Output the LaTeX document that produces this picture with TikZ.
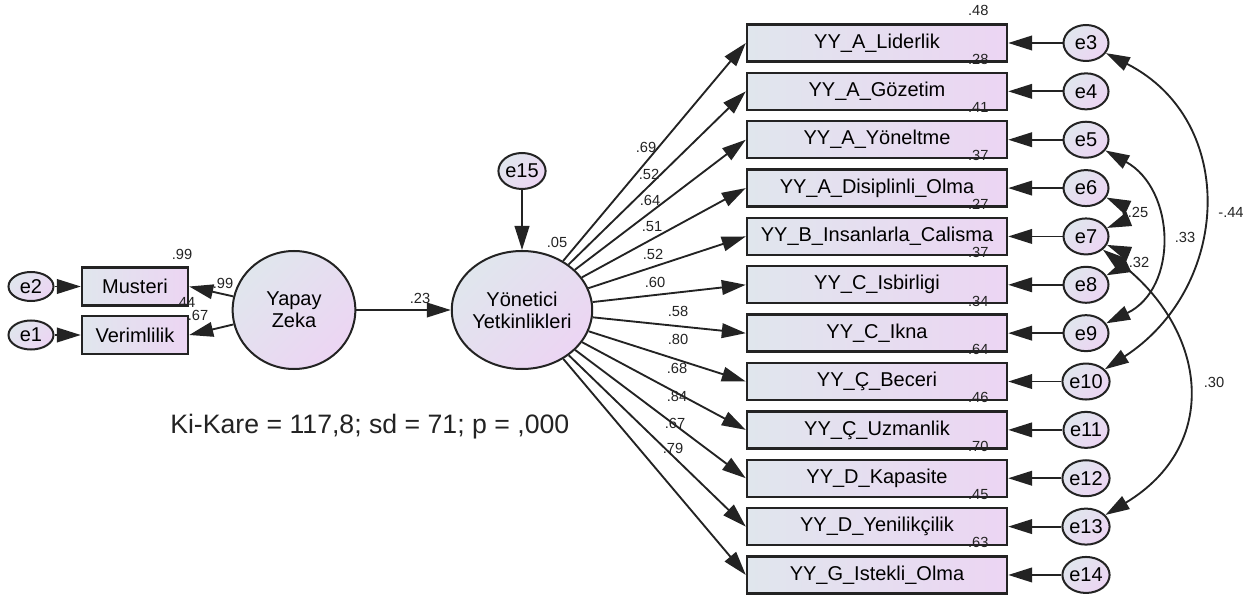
\documentclass[tikz,border=0pt]{standalone}
\usepackage{fontspec}
\setmainfont{Liberation Sans}
\usetikzlibrary{arrows.meta,calc,shapes.geometric}
\definecolor{amosL}{RGB}{224,230,237}
\definecolor{amosR}{RGB}{236,213,243}
\definecolor{ink}{RGB}{35,35,35}

\begin{document}
\begin{tikzpicture}[x=0.75pt,y=0.75pt,
  obs/.style={draw=ink,line width=1.8pt,left color=amosL,right color=amosR,
    minimum width=195pt,minimum height=27.75pt,inner sep=0pt,font=\fontsize{15}{16.5}\selectfont},
  obsl/.style={obs,minimum width=79.5pt,minimum height=28.5pt},
  lat/.style={ellipse,draw=ink,line width=1.5pt,left color=amosL,right color=amosR,shading angle=45,
    minimum width=92pt,minimum height=88.5pt,inner sep=0pt,align=center,font=\fontsize{15}{16.5}\selectfont},
  err/.style={ellipse,draw=ink,line width=1.5pt,left color=amosL,right color=amosR,shading angle=45,
    minimum width=33.75pt,minimum height=27pt,inner sep=0pt,font=\fontsize{15}{16.5}\selectfont},
  errl/.style={err,minimum height=21.75pt},
  num/.style={inner sep=0pt,text=ink,font=\fontsize{11}{12}\selectfont},
  pth/.style={draw=ink,line width=1.4pt,-{Triangle[length=18pt,width=11pt]}},
  cov/.style={draw=ink,line width=1.4pt,{Triangle[length=18pt,width=11pt]}-{Triangle[length=18pt,width=11pt]}}]
\useasboundingbox (0,0) rectangle (1259,-598);

\node[lat] (yz) at (294,-310) {Yapay\\Zeka};
\node[lat] (yy) at (522,-310) {Yönetici\\Yetkinlikleri};
\node[err] (e15) at (522,-171) {e15};
\node[obsl] (mus) at (135,-286.5) {Musteri};
\node[obsl] (ver) at (135,-335) {Verimlilik};
\node[errl] (e2) at (31,-286.5) {e2};
\node[errl] (e1) at (31,-335) {e1};

\draw[pth] (e2) -- (mus);
\draw[pth] (e1) -- (ver);
\draw[pth] (yz) -- (mus.east);
\draw[pth] (yz) -- (ver.east);
\draw[pth] (yz) -- (yy);
\draw[pth] (e15) -- (yy);

\node[num] (rmus) at (182,-254) {.99};
\node[num] (rver) at (185,-302) {.44};
\node[num] (lmus) at (223,-283) {.99};
\node[num] (lver) at (198,-315) {.67};
\node[num] (ryy) at (557,-242) {.05};
\node[num] (lyy) at (420,-298) {.23};

\foreach \t/\r [count=\i from 3] in {YY\_A\_Liderlik/.48, YY\_A\_Gözetim/.28, YY\_A\_Yöneltme/.41,
    YY\_A\_Disiplinli\_Olma/.37, YY\_B\_Insanlarla\_Calisma/.27, YY\_C\_Isbirligi/.37,
    YY\_C\_Ikna/.34, YY\_Ç\_Beceri/.64, YY\_Ç\_Uzmanlik/.46, YY\_D\_Kapasite/.70,
    YY\_D\_Yenilikçilik/.45, YY\_G\_Istekli\_Olma/.63}{
  \node[obs] (b\i) at (877,{-43-48.36*(\i-3)}) {\t};
  \node[err] (e\i) at (1086,{-43-48.36*(\i-3)}) {e\i};
  \node[num] (r\i) at ($(b\i.north east)+(-30,12.5)$) {\r};
  \draw[pth] (yy) -- (b\i.west);
  \draw[pth] (e\i) -- (b\i);
}

\foreach \v/\x/\y [count=\i from 3] in {.69/646/147, .52/649/174, .64/650/200, .51/652/227,
    .52/653/254, .60/655/282, .58/678/311, .80/678/339, .68/677/368, .84/677/396,
    .67/675/423, .79/673/448}
  \node[num] (p\i) at (\x,-\y) {\v};

\draw[cov] (e3) to[out=-27,in=33,looseness=1.21] (e10);
\draw[cov] (e5) to[out=-29,in=26,looseness=1.19] (e9);
\draw[cov] (e6) to[out=-25,in=22,looseness=1.4] (e7);
\draw[cov] (e7) to[out=-22,in=25,looseness=1.4] (e8);
\draw[cov] (e7) to[out=-38,in=31,looseness=1.29] (e13);

\node[num] (c1) at (1231,-212) {-.44};
\node[num] (c2) at (1185,-237) {.33};
\node[num] (c3) at (1138,-212) {.25};
\node[num] (c4) at (1139,-262) {.32};
\node[num] (c5) at (1214,-382) {.30};

\node[anchor=base west,inner sep=0pt,text=ink,font=\fontsize{20}{22}\selectfont] (ki) at (170,-433)
  {Ki-Kare = 117,8; sd = 71; p = ,000};
\end{tikzpicture}
\end{document}
